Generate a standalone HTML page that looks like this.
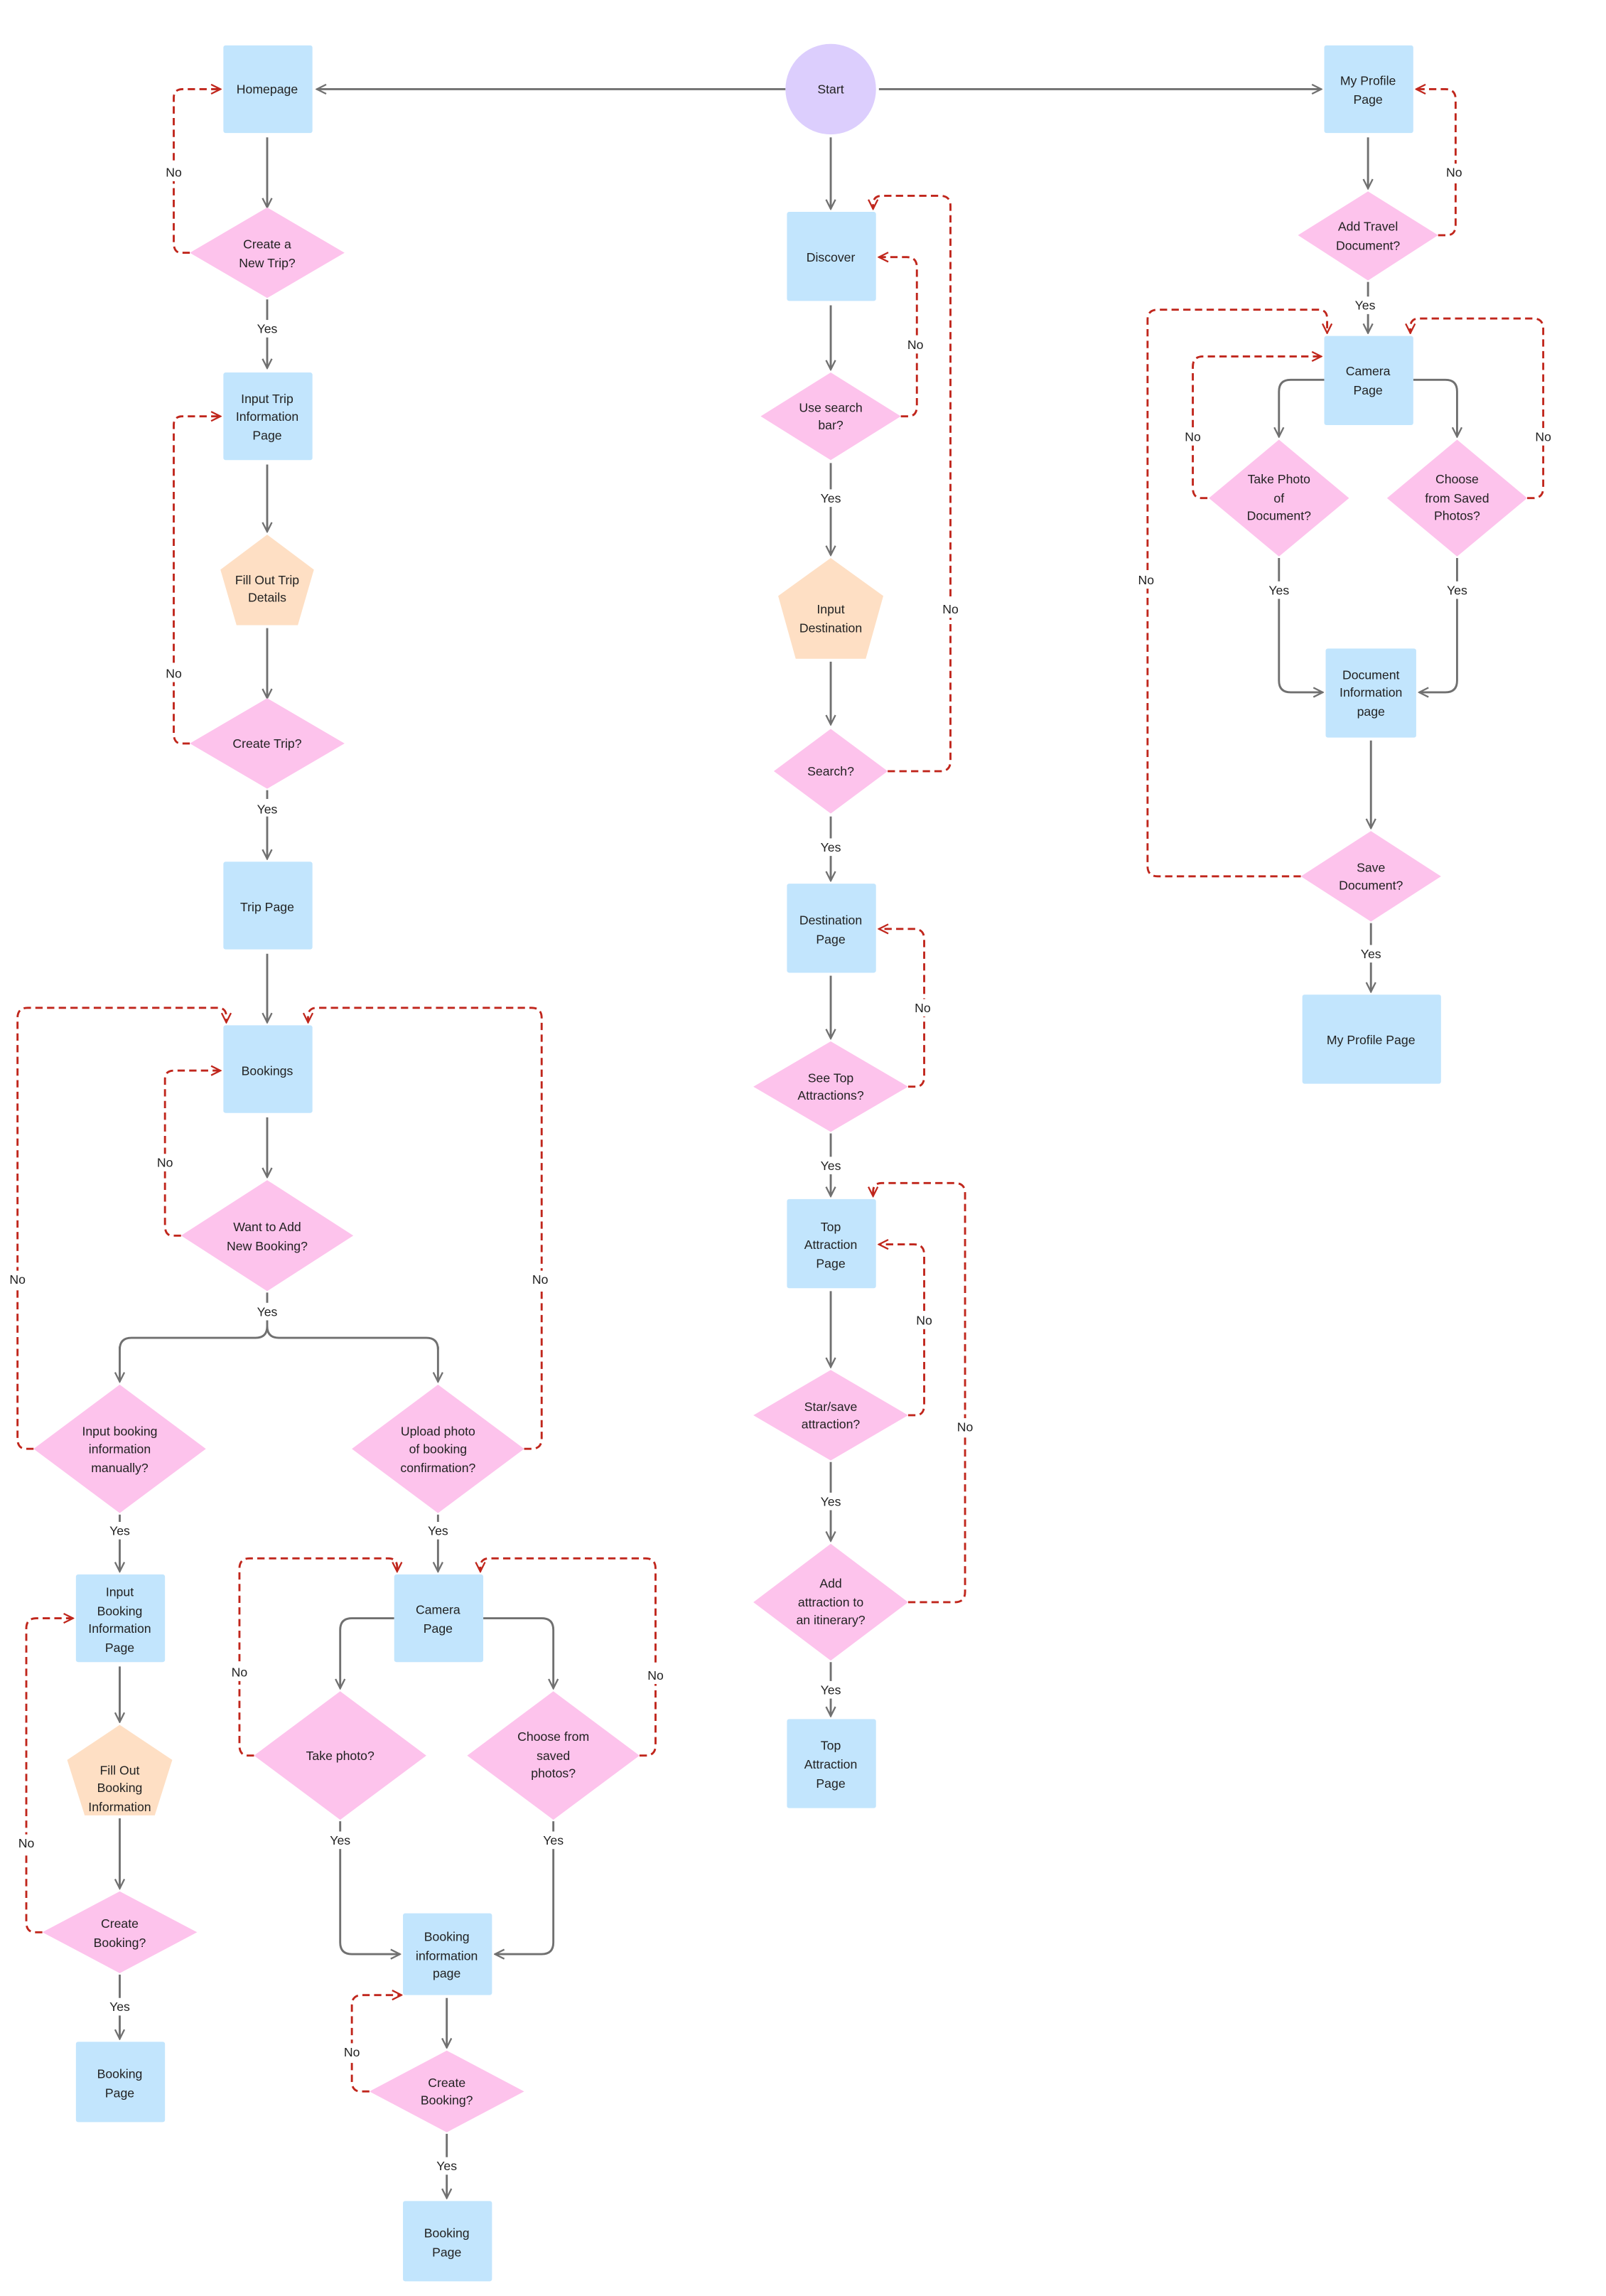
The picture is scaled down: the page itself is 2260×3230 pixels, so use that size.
<!DOCTYPE html>
<html><head><meta charset="utf-8"><style>
html,body{margin:0;padding:0;background:#fff;}
svg{display:block;}
text{font-family:"Liberation Sans",sans-serif;font-size:8.6px;fill:#222;text-anchor:middle;}
.b{fill:#C2E5FD}.p{fill:#FDC3EC}.o{fill:#FEDFC4}.v{fill:#DCCEFD}
.g{fill:none;stroke:#707070;stroke-width:1.4;stroke-linejoin:round;marker-end:url(#ag)}
.gn{fill:none;stroke:#707070;stroke-width:1.4;stroke-linejoin:round}
.r{fill:none;stroke:#C0261C;stroke-width:1.4;stroke-dasharray:5,3;stroke-linejoin:round;marker-end:url(#ar)}
.lb{fill:#fff}
</style></head><body>
<svg width="2260" height="3230" viewBox="0 0 1100 1572" xmlns="http://www.w3.org/2000/svg">
<defs>
<marker id="ag" viewBox="0 0 10 10" refX="9" refY="5" markerWidth="8" markerHeight="8" markerUnits="userSpaceOnUse" orient="auto"><path d="M1,1 L9,5 L1,9" fill="none" stroke="#707070" stroke-width="1.4"/></marker>
<marker id="ar" viewBox="0 0 10 10" refX="9" refY="5" markerWidth="8" markerHeight="8" markerUnits="userSpaceOnUse" orient="auto"><path d="M1,1 L9,5 L1,9" fill="none" stroke="#C0261C" stroke-width="1.4"/></marker>
</defs>

<!-- gray connectors -->
<path class="g" d="M538,61 H217"/>
<path class="g" d="M602,61 H905"/>
<path class="g" d="M569,94 V143"/>
<path class="g" d="M183,94 V142"/>
<path class="g" d="M183,205 V252"/>
<path class="g" d="M183,318 V364"/>
<path class="g" d="M183,430 V478"/>
<path class="g" d="M183,541 V588"/>
<path class="g" d="M183,653 V700"/>
<path class="g" d="M183,765 V806"/>
<path class="gn" d="M183,885 V908 Q183,916 175,916 H90 Q82,916 82,924"/>
<path class="g" d="M82,922 V946"/>
<path class="gn" d="M183,908 Q183,916 191,916 H292 Q300,916 300,924"/>
<path class="g" d="M300,922 V946"/>
<path class="g" d="M82,1037 V1076"/>
<path class="g" d="M300,1037 V1076"/>
<path class="g" d="M82,1141 V1179"/>
<path class="g" d="M82,1245 V1293"/>
<path class="g" d="M82,1352 V1396"/>
<path class="g" d="M270,1108 H241 Q233,1108 233,1116 V1156"/>
<path class="g" d="M331,1108 H371 Q379,1108 379,1116 V1156"/>
<path class="g" d="M233,1247 V1330 Q233,1338 241,1338 H274"/>
<path class="g" d="M379,1247 V1330 Q379,1338 371,1338 H339"/>
<path class="g" d="M306,1368 V1402"/>
<path class="g" d="M306,1461 V1505"/>
<path class="g" d="M569,209 V253"/>
<path class="g" d="M569,317 V380"/>
<path class="g" d="M569,453 V496"/>
<path class="g" d="M569,559 V603"/>
<path class="g" d="M569,668 V711"/>
<path class="g" d="M569,776 V819"/>
<path class="g" d="M569,884 V936"/>
<path class="g" d="M569,1001 V1055"/>
<path class="g" d="M569,1138 V1175"/>
<path class="g" d="M937,94 V129"/>
<path class="g" d="M937,193 V228"/>
<path class="g" d="M907,260 H884 Q876,260 876,268 V299"/>
<path class="g" d="M968,260 H990 Q998,260 998,268 V299"/>
<path class="g" d="M876,382 V466 Q876,474 884,474 H906"/>
<path class="g" d="M998,382 V466 Q998,474 990,474 H972"/>
<path class="g" d="M939,507 V567"/>
<path class="g" d="M939,632 V679"/>

<!-- red dashed -->
<path class="r" d="M130,173 H124 Q119,173 119,166 V67 Q119,61 125,61 H151"/>
<path class="r" d="M130,509 H124 Q119,509 119,502 V291 Q119,285 125,285 H151"/>
<path class="r" d="M124,846 H118 Q113,846 113,839 V739 Q113,733 119,733 H151"/>
<path class="r" d="M23,992 H18 Q12,992 12,985 V697 Q12,690 19,690 H149 Q155,690 155,696 V700"/>
<path class="r" d="M359,992 H364 Q371,992 371,985 V697 Q371,690 364,690 H217 Q211,690 211,696 V700"/>
<path class="r" d="M29,1323 H24 Q18,1323 18,1316 V1115 Q18,1108 25,1108 H50"/>
<path class="r" d="M253,1432 H247 Q241,1432 241,1425 V1373 Q241,1366 248,1366 H275"/>
<path class="r" d="M174,1202 H170 Q164,1202 164,1195 V1074 Q164,1067 171,1067 H266 Q272,1067 272,1073 V1076"/>
<path class="r" d="M438,1202 H442 Q449,1202 449,1195 V1074 Q449,1067 442,1067 H335 Q329,1067 329,1073 V1076"/>
<path class="r" d="M617,285 H622 Q628,285 628,278 V183 Q628,176 621,176 H602"/>
<path class="r" d="M608,528 H644 Q651,528 651,521 V141 Q651,134 644,134 H604 Q598,134 598,140 V143"/>
<path class="r" d="M622,744 H627 Q633,744 633,737 V643 Q633,636 626,636 H602"/>
<path class="r" d="M622,969 H627 Q633,969 633,962 V859 Q633,852 626,852 H602"/>
<path class="r" d="M622,1097 H654 Q661,1097 661,1090 V817 Q661,810 654,810 H604 Q598,810 598,816 V819"/>
<path class="r" d="M985,161 H991 Q997,161 997,154 V68 Q997,61 990,61 H970"/>
<path class="r" d="M827,341 H823 Q817,341 817,334 V251 Q817,244 824,244 H905"/>
<path class="r" d="M1046,341 H1050 Q1057,341 1057,334 V225 Q1057,218 1050,218 H972 Q966,218 966,224 V228"/>
<path class="r" d="M891,600 H793 Q786,600 786,593 V219 Q786,212 793,212 H903 Q909,212 909,218 V228"/>

<!-- nodes -->
<ellipse class="v" cx="569" cy="61" rx="31" ry="31"/><text x="569" y="64">Start</text>
<rect class="b" x="153" y="31" width="61" height="60" rx="1.5"/><text x="183" y="64">Homepage</text>
<rect class="b" x="907" y="31" width="61" height="60" rx="1.5"/><text x="937" y="58">My Profile</text><text x="937" y="71">Page</text>
<polygon class="p" points="183,142 236,173 183,204 130,173"/><text x="183" y="170">Create a</text><text x="183" y="183">New Trip?</text>
<rect class="b" x="153" y="255" width="61" height="60" rx="1.5"/><text x="183" y="276">Input Trip</text><text x="183" y="288">Information</text><text x="183" y="301">Page</text>
<polygon class="o" points="183,366 215,390 204,428 162,428 151,390"/><text x="183" y="400">Fill Out Trip</text><text x="183" y="412">Details</text>
<polygon class="p" points="183,478 236,509 183,540 130,509"/><text x="183" y="512">Create Trip?</text>
<rect class="b" x="153" y="590" width="61" height="60" rx="1.5"/><text x="183" y="624">Trip Page</text>
<rect class="b" x="153" y="702" width="61" height="60" rx="1.5"/><text x="183" y="736">Bookings</text>
<polygon class="p" points="183,808 242,846 183,884 124,846"/><text x="183" y="843">Want to Add</text><text x="183" y="856">New Booking?</text>
<polygon class="p" points="82,948 141,992 82,1036 23,992"/><text x="82" y="983">Input booking</text><text x="82" y="995">information</text><text x="82" y="1008">manually?</text>
<polygon class="p" points="300,948 359,992 300,1036 241,992"/><text x="300" y="983">Upload photo</text><text x="300" y="995">of booking</text><text x="300" y="1008">confirmation?</text>
<rect class="b" x="52" y="1078" width="61" height="60" rx="1.5"/><text x="82" y="1093">Input</text><text x="82" y="1106">Booking</text><text x="82" y="1118">Information</text><text x="82" y="1131">Page</text>
<polygon class="o" points="82,1181 118,1205 106,1243 58,1243 46,1205"/><text x="82" y="1215">Fill Out</text><text x="82" y="1227">Booking</text><text x="82" y="1240">Information</text>
<polygon class="p" points="82,1295 135,1323 82,1351 29,1323"/><text x="82" y="1320">Create</text><text x="82" y="1333">Booking?</text>
<rect class="b" x="52" y="1398" width="61" height="55" rx="1.5"/><text x="82" y="1423">Booking</text><text x="82" y="1436">Page</text>
<rect class="b" x="270" y="1078" width="61" height="60" rx="1.5"/><text x="300" y="1105">Camera</text><text x="300" y="1118">Page</text>
<polygon class="p" points="233,1158 292,1202 233,1246 174,1202"/><text x="233" y="1205">Take photo?</text>
<polygon class="p" points="379,1158 438,1202 379,1246 320,1202"/><text x="379" y="1192">Choose from</text><text x="379" y="1205">saved</text><text x="379" y="1217">photos?</text>
<rect class="b" x="276" y="1310" width="61" height="56" rx="1.5"/><text x="306" y="1329">Booking</text><text x="306" y="1342">information</text><text x="306" y="1354">page</text>
<polygon class="p" points="306,1404 359,1432 306,1460 253,1432"/><text x="306" y="1429">Create</text><text x="306" y="1441">Booking?</text>
<rect class="b" x="276" y="1507" width="61" height="55" rx="1.5"/><text x="306" y="1532">Booking</text><text x="306" y="1545">Page</text>

<rect class="b" x="539" y="145" width="61" height="61" rx="1.5"/><text x="569" y="179">Discover</text>
<polygon class="p" points="569,255 617,285 569,315 521,285"/><text x="569" y="282">Use search</text><text x="569" y="294">bar?</text>
<polygon class="o" points="569,382 605,408 593,451 545,451 533,408"/><text x="569" y="420">Input</text><text x="569" y="433">Destination</text>
<polygon class="p" points="569,499 608,528 569,557 530,528"/><text x="569" y="531">Search?</text>
<rect class="b" x="539" y="605" width="61" height="61" rx="1.5"/><text x="569" y="633">Destination</text><text x="569" y="646">Page</text>
<polygon class="p" points="569,713 622,744 569,775 516,744"/><text x="569" y="741">See Top</text><text x="569" y="753">Attractions?</text>
<rect class="b" x="539" y="821" width="61" height="61" rx="1.5"/><text x="569" y="843">Top</text><text x="569" y="855">Attraction</text><text x="569" y="868">Page</text>
<polygon class="p" points="569,938 622,969 569,1000 516,969"/><text x="569" y="966">Star/save</text><text x="569" y="978">attraction?</text>
<polygon class="p" points="569,1057 622,1097 569,1137 516,1097"/><text x="569" y="1087">Add</text><text x="569" y="1100">attraction to</text><text x="569" y="1112">an itinerary?</text>
<rect class="b" x="539" y="1177" width="61" height="61" rx="1.5"/><text x="569" y="1198">Top</text><text x="569" y="1211">Attraction</text><text x="569" y="1224">Page</text>

<polygon class="p" points="937,131 985,161 937,192 889,161"/><text x="937" y="158">Add Travel</text><text x="937" y="171">Document?</text>
<rect class="b" x="907" y="230" width="61" height="61" rx="1.5"/><text x="937" y="257">Camera</text><text x="937" y="270">Page</text>
<polygon class="p" points="876,301 924,341 876,381 828,341"/><text x="876" y="331">Take Photo</text><text x="876" y="344">of</text><text x="876" y="356">Document?</text>
<polygon class="p" points="998,301 1046,341 998,381 950,341"/><text x="998" y="331">Choose</text><text x="998" y="344">from Saved</text><text x="998" y="356">Photos?</text>
<rect class="b" x="908" y="444" width="62" height="61" rx="1.5"/><text x="939" y="465">Document</text><text x="939" y="477">Information</text><text x="939" y="490">page</text>
<polygon class="p" points="939,569 987,600 939,631 891,600"/><text x="939" y="597">Save</text><text x="939" y="609">Document?</text>
<rect class="b" x="892" y="681" width="95" height="61" rx="1.5"/><text x="939" y="715">My Profile Page</text>

<!-- labels -->
<g>
<rect class="lb" x="173" y="219" width="20" height="12"/><text x="183" y="228">Yes</text>
<rect class="lb" x="173" y="547" width="20" height="12"/><text x="183" y="557">Yes</text>
<rect class="lb" x="173" y="892" width="20" height="12"/><text x="183" y="901">Yes</text>
<rect class="lb" x="72" y="1042" width="20" height="12"/><text x="82" y="1051">Yes</text>
<rect class="lb" x="290" y="1042" width="20" height="12"/><text x="300" y="1051">Yes</text>
<rect class="lb" x="72" y="1368" width="20" height="12"/><text x="82" y="1377">Yes</text>
<rect class="lb" x="223" y="1254" width="20" height="12"/><text x="233" y="1263">Yes</text>
<rect class="lb" x="369" y="1254" width="20" height="12"/><text x="379" y="1263">Yes</text>
<rect class="lb" x="296" y="1477" width="20" height="12"/><text x="306" y="1486">Yes</text>
<rect class="lb" x="559" y="335" width="20" height="12"/><text x="569" y="344">Yes</text>
<rect class="lb" x="559" y="574" width="20" height="12"/><text x="569" y="583">Yes</text>
<rect class="lb" x="559" y="792" width="20" height="12"/><text x="569" y="801">Yes</text>
<rect class="lb" x="559" y="1022" width="20" height="12"/><text x="569" y="1031">Yes</text>
<rect class="lb" x="559" y="1151" width="20" height="12"/><text x="569" y="1160">Yes</text>
<rect class="lb" x="925" y="203" width="20" height="12"/><text x="935" y="212">Yes</text>
<rect class="lb" x="866" y="398" width="20" height="12"/><text x="876" y="407">Yes</text>
<rect class="lb" x="988" y="398" width="20" height="12"/><text x="998" y="407">Yes</text>
<rect class="lb" x="929" y="647" width="20" height="12"/><text x="939" y="656">Yes</text>

<rect class="lb" x="111" y="112" width="16" height="12"/><text x="119" y="121">No</text>
<rect class="lb" x="111" y="455" width="16" height="12"/><text x="119" y="464">No</text>
<rect class="lb" x="105" y="790" width="16" height="12"/><text x="113" y="799">No</text>
<rect class="lb" x="4" y="870" width="16" height="12"/><text x="12" y="879">No</text>
<rect class="lb" x="362" y="870" width="16" height="12"/><text x="370" y="879">No</text>
<rect class="lb" x="10" y="1256" width="16" height="12"/><text x="18" y="1265">No</text>
<rect class="lb" x="233" y="1399" width="16" height="12"/><text x="241" y="1408">No</text>
<rect class="lb" x="156" y="1139" width="16" height="12"/><text x="164" y="1148">No</text>
<rect class="lb" x="441" y="1141" width="16" height="12"/><text x="449" y="1150">No</text>
<rect class="lb" x="619" y="230" width="16" height="12"/><text x="627" y="239">No</text>
<rect class="lb" x="643" y="411" width="16" height="12"/><text x="651" y="420">No</text>
<rect class="lb" x="624" y="684" width="16" height="12"/><text x="632" y="693">No</text>
<rect class="lb" x="625" y="898" width="16" height="12"/><text x="633" y="907">No</text>
<rect class="lb" x="653" y="971" width="16" height="12"/><text x="661" y="980">No</text>
<rect class="lb" x="988" y="112" width="16" height="12"/><text x="996" y="121">No</text>
<rect class="lb" x="809" y="293" width="16" height="12"/><text x="817" y="302">No</text>
<rect class="lb" x="1049" y="293" width="16" height="12"/><text x="1057" y="302">No</text>
<rect class="lb" x="777" y="391" width="16" height="12"/><text x="785" y="400">No</text>
</g>
</svg>
</body></html>
